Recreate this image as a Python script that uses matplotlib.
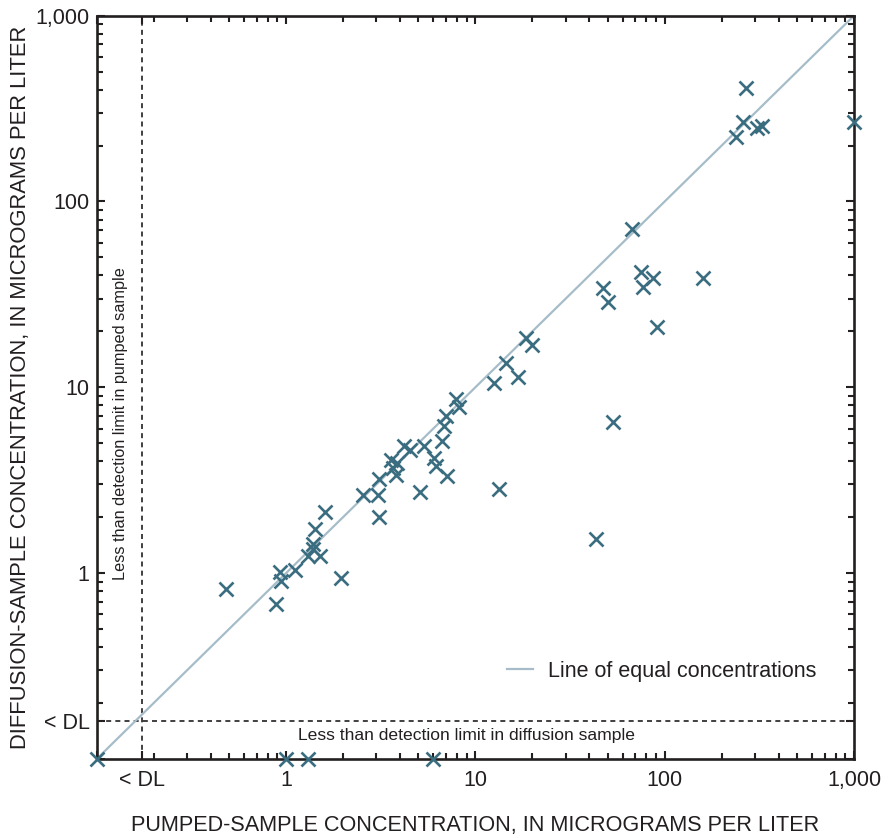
import matplotlib
matplotlib.use("Agg")
import matplotlib.pyplot as plt
from matplotlib.ticker import LogLocator, NullFormatter, FixedLocator, FixedFormatter

plt.rcParams['font.family'] = ['Liberation Sans', 'DejaVu Sans']

# detection-limit positions on each axis
DL_X = 0.173
DL_Y = 0.16

# detected in both samples (micrograms per liter)
pumped = [0.48, 0.89, 0.93, 0.94, 1.12, 1.31, 1.38, 1.39, 1.42, 1.51, 1.61, 1.95,
          2.54, 3.07, 3.11, 3.11, 3.59, 3.69, 3.8, 3.85, 4.2, 4.52, 5.1, 5.36,
          6.05, 6.2, 6.65, 6.83, 7.0, 7.11, 7.88, 8.23, 12.6, 13.3, 14.6, 16.7,
          18.5, 19.9, 43.3, 47.1, 50, 53.6, 67.5, 75, 76.6, 86.5, 90.8, 160,
          237, 260, 268, 307, 328, 1000]
diffusion = [0.82, 0.68, 1.02, 0.91, 1.04, 1.24, 1.43, 1.35, 1.72, 1.24, 2.14, 0.94,
             2.64, 2.64, 3.2, 2.0, 4.07, 3.67, 3.38, 3.93, 4.84, 4.6, 2.75, 4.86,
             4.15, 3.79, 5.16, 6.19, 7.04, 3.34, 8.66, 7.82, 10.6, 2.84, 13.5, 11.3,
             18.5, 16.8, 1.52, 34.4, 28.9, 6.54, 71, 42, 34.6, 38.7, 21, 38.7,
             222, 267, 407, 248, 255, 269]

# below detection limit in diffusion sample (plotted on the axis)
pumped_nd = [0.1, 1.0, 1.31, 6.0]
diffusion_nd = [0.1, 0.1, 0.1, 0.1]

equal_line = [0.1, 1000]

tick_vals = [0.1, DL_X, 1, 10, 100, 1000]
ytick_vals = [0.1, DL_Y, 1, 10, 100, 1000]
tick_labels = ['', '< DL', '1', '10', '100', '1,000']

ink = '#231f20'
mark = '#3a6d80'
line_col = '#a6bdc9'

fig = plt.figure(figsize=(8.92, 8.38), dpi=100)
ax = fig.add_axes([0.1084, 0.0943, 0.849, 0.887])
ax.set_xscale('log')
ax.set_yscale('log')
ax.set_xlim(0.1, 1000)
ax.set_ylim(0.1, 1000)

ax.plot(equal_line, equal_line, color=line_col, lw=1.6, zorder=2,
        label='Line of equal concentrations')

ax.axvline(DL_X, color=ink, lw=1.2, ls=(0, (3, 2.5)), zorder=1)
ax.axhline(DL_Y, color=ink, lw=1.2, ls=(0, (3, 2.5)), zorder=1)

ax.plot(pumped, diffusion, ls='none', marker='x', ms=10, mew=1.9,
        color=mark, clip_on=False, zorder=4)
ax.plot(pumped_nd, diffusion_nd, ls='none', marker='x', ms=10, mew=1.9,
        color=mark, clip_on=False, zorder=4)

ax.xaxis.set_major_locator(FixedLocator(tick_vals))
ax.xaxis.set_major_formatter(FixedFormatter(tick_labels))
ax.yaxis.set_major_locator(FixedLocator(ytick_vals))
ax.yaxis.set_major_formatter(FixedFormatter(tick_labels))
ax.xaxis.set_minor_locator(LogLocator(base=10, subs=[2, 3, 4, 5, 6, 7, 8, 9], numticks=20))
ax.yaxis.set_minor_locator(LogLocator(base=10, subs=[2, 3, 4, 5, 6, 7, 8, 9], numticks=20))
ax.xaxis.set_minor_formatter(NullFormatter())
ax.yaxis.set_minor_formatter(NullFormatter())

ax.tick_params(which='both', direction='in', top=True, right=True,
               color=ink, width=1.5, labelcolor=ink, labelsize=15.5)
ax.tick_params(which='major', length=5.5)
ax.tick_params(which='minor', length=4)
ax.tick_params(axis='x', pad=8)
ax.tick_params(axis='y', pad=5)

for s in ax.spines.values():
    s.set_linewidth(1.9)
    s.set_color(ink)

ax.set_xlabel('PUMPED-SAMPLE CONCENTRATION, IN MICROGRAMS PER LITER',
              fontsize=15.6, color=ink, labelpad=17)
ax.set_ylabel('DIFFUSION-SAMPLE CONCENTRATION, IN MICROGRAMS PER LITER',
              fontsize=15.8, color=ink, labelpad=3)

ax.text(0.266, 0.031, 'Less than detection limit in diffusion sample',
        transform=ax.transAxes, fontsize=12.6, color=ink, ha='left', va='center')
ax.text(0.031, 0.241, 'Less than detection limit in pumped sample',
        transform=ax.transAxes, fontsize=11.7, color=ink, ha='center', va='bottom',
        rotation=90)

ax.legend(loc='center left', bbox_to_anchor=(0.542, 0.118), frameon=False,
          fontsize=15.5, handlelength=1.2, handletextpad=0.7, borderpad=0,
          borderaxespad=0, labelcolor=ink)

fig.savefig('out.png', dpi=100, facecolor='white')
